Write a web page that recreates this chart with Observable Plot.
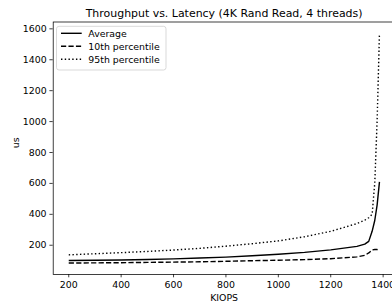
<!DOCTYPE html>
<html><head><meta charset="utf-8">
<script src="https://cdn.jsdelivr.net/npm/d3@7"></script>
<script src="https://cdn.jsdelivr.net/npm/@observablehq/plot@0.6"></script>
<style>
html,body{margin:0;padding:0;background:#fff;overflow:hidden;}
#wrap{position:relative;width:392px;height:305px;font-family:"DejaVu Sans",sans-serif;overflow:hidden;}
#wrap svg{position:absolute;left:0;top:0;}
</style></head><body><div id="wrap"></div>
<script>
const title = "Throughput vs. Latency (4K Rand Read, 4 threads)";
const xLabel = "KIOPS";
const yLabel = "us";
const seriesNames = ["Average", "10th percentile", "95th percentile"];
const kiops  = [200, 300, 400, 500, 600, 700, 800, 900, 1000, 1100, 1200, 1300, 1330, 1345, 1358, 1368, 1377, 1386];
const avgLat = [101, 103, 105, 108, 112, 117, 123, 132, 142, 154, 170, 193, 207, 225, 290, 360, 460, 610];
const p10Lat = [85, 86, 87, 89, 91, 93, 96, 100, 103, 107, 113, 125, 135, 150, 170, 172, 172, 174];
const p95Lat = [138, 145, 152, 160, 169, 180, 194, 210, 228, 255, 290, 340, 362, 378, 400, 600, 1000, 1570];
const xTicks = [200, 400, 600, 800, 1000, 1200, 1400];
const yTicks = [200, 400, 600, 800, 1000, 1200, 1400, 1600];

const rows = kiops.map((k, i) => ({k, avg: avgLat[i], p10: p10Lat[i], p95: p95Lat[i]}));
const pad = (lo, hi) => [lo - 0.05 * (hi - lo), hi + 0.05 * (hi - lo)];
const xDom = pad(d3.min(kiops), d3.max(kiops));
const yAll = avgLat.concat(p10Lat, p95Lat);
const yDom = pad(d3.min(yAll), d3.max(yAll));

const LW = 1.41;
const styles = [
  {stroke: "black", strokeWidth: LW},
  {stroke: "black", strokeWidth: LW, strokeDasharray: "5.2,2.26"},
  {stroke: "black", strokeWidth: LW, strokeDasharray: "1.41,2.33"}
];
const keys = ["avg", "p10", "p95"];

const W = 392, H = 305;
const chart = Plot.plot({
  width: W, height: H,
  marginLeft: 52.7, marginRight: -2.5, marginTop: 21.5, marginBottom: 31,
  style: {fontFamily: "DejaVu Sans, sans-serif", fontSize: "9.4px", color: "black", background: "white", overflow: "visible"},
  x: {domain: xDom},
  y: {domain: yDom},
  marks: [
    ...keys.map((key, i) => Plot.line(rows, {x: "k", y: key, ...styles[i], strokeLinecap: "butt", strokeLinejoin: "round"})),
    Plot.frame({stroke: "black", strokeWidth: 0.75}),
    Plot.axisX({ticks: xTicks, tickSize: 3.3, tickPadding: 3.3, tickFormat: d => String(d), label: null, fontSize: 9.4, strokeWidth: 0.75}),
    Plot.axisY({ticks: yTicks, tickSize: 3.3, tickPadding: 3.3, tickFormat: d => String(d), label: null, fontSize: 9.4, strokeWidth: 0.75}),
    Plot.text([title], {frameAnchor: "top", lineAnchor: "bottom", dy: -5.4, fontSize: 10.95, fill: "black"}),
    Plot.text([xLabel], {frameAnchor: "bottom", lineAnchor: "middle", dy: 23, fontSize: 9.4, fill: "black"}),
    Plot.text([yLabel], {frameAnchor: "left", lineAnchor: "middle", rotate: -90, dx: -37.7, fontSize: 9.4, fill: "black"})
  ]
});
const wrap = document.getElementById("wrap");
wrap.appendChild(chart);

// legend overlay
const leg = d3.select(wrap).append("svg").attr("width", W).attr("height", H)
  .style("font-family", "DejaVu Sans, sans-serif").style("font-size", "9.4px");
leg.append("rect").attr("x", 56.5).attr("y", 26.3).attr("width", 109.5).attr("height", 43.7)
  .attr("rx", 2.5).attr("fill", "white").attr("fill-opacity", 0.8).attr("stroke", "#cccccc").attr("stroke-width", 0.75);
seriesNames.forEach((name, i) => {
  const y = 33.3 + i * 13;
  const s = styles[i];
  leg.append("line").attr("x1", 61).attr("x2", 81.7).attr("y1", y).attr("y2", y)
    .attr("stroke", s.stroke).attr("stroke-width", s.strokeWidth)
    .attr("stroke-dasharray", s.strokeDasharray || null);
  leg.append("text").attr("x", 88.3).attr("y", y).attr("dy", "0.35em").attr("fill", "black").text(name);
});
</script>
</body></html>
